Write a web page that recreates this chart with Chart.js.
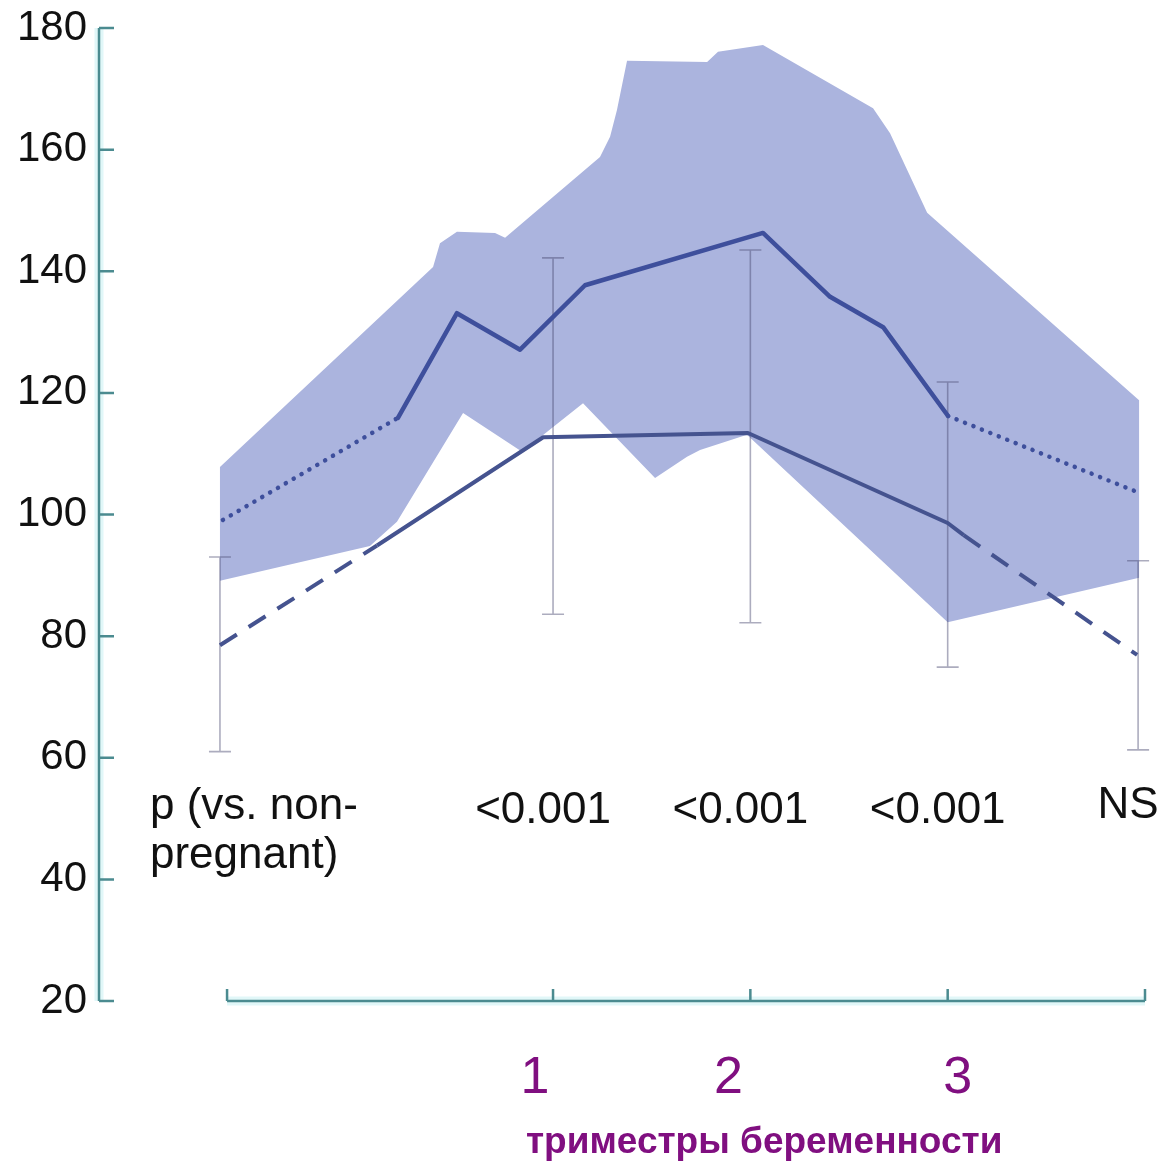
<!DOCTYPE html>
<html>
<head>
<meta charset="utf-8">
<script src="https://cdn.jsdelivr.net/npm/chart.js@4.4.1/dist/chart.umd.min.js"></script>
<style>
  html, body { margin: 0; padding: 0; background: #ffffff; }
  #wrap { width: 1161px; height: 1164px; }
</style>
</head>
<body>
<div id="wrap"><canvas id="c" width="1161" height="1164"></canvas></div>
<script>
// Horizontal positions: trimesters sit at 1, 2, 3; non-pregnant and postpartum at the ends
const groupX   = [-0.688, 1, 2, 3, 3.965];
const errHigh  = [93.0, 142.2, 143.5, 121.8, 92.4];
const errLow   = [61.0, 83.6, 82.2, 74.9, 61.3];
const pLabels  = [['p (vs. non-', 'pregnant)'], ['<0.001'], ['<0.001'], ['<0.001'], ['NS']];

// Upper mean curve (dotted at both ends)
const upperX = [-0.673, 0.214, 0.513, 0.833, 1.162, 2.064, 2.404, 2.673, 3.002, 3.960];
const upperY = [99.1, 115.9, 133.1, 127.1, 137.7, 146.3, 135.8, 130.8, 116.2, 103.7];

// Lower mean curve (dashed at both ends)
const lowerX = [-0.688, 0.108, 0.950, 1.988, 3.000, 3.081, 3.960];
const lowerY = [78.5, 94.9, 112.7, 113.4, 98.6, 96.6, 76.9];

// Shaded range: upper edge and lower edge, left to right
const bandTopX = [-0.688, 0.392, 0.427, 0.513, 0.706, 0.757, 1.238, 1.289, 1.324, 1.375, 1.781, 1.836, 2.064, 2.622, 2.708, 2.896, 3.012, 3.970];
const bandTopY = [107.8, 140.7, 144.6, 146.5, 146.3, 145.5, 158.8, 162.1, 166.5, 174.6, 174.4, 176.1, 177.2, 166.8, 162.7, 149.6, 146.3, 118.8];
const bandBotX = [-0.688, 0.072, 0.209, 0.544, 0.843, 1.152, 1.517, 1.679, 1.745, 1.983, 3.000, 3.970];
const bandBotY = [89.1, 94.8, 98.8, 116.7, 110.3, 118.3, 106.0, 109.5, 110.6, 113.1, 82.3, 89.6];

// Axis ticks and labels
const yMin = 20, yMax = 180, yStep = 20;
const trimesterTicks  = [1, 2, 3];
const trimesterLabels = ['1', '2', '3'];
const axisStartX = -0.652, axisEndX = 4.0;
const xTitle = 'триместры беременности';

const pts = (xs, ys) => xs.map((x, i) => ({ x: x, y: ys[i] }));
const bandPoints = pts(bandTopX, bandTopY).concat(pts(bandBotX, bandBotY).reverse());

const AXIS = '#4b8b90';
const LINE = '#3e4f9c';
const PURPLE = '#800f80';
const FONT = '"Liberation Sans", Arial, sans-serif';

const axesPlugin = {
  id: 'customAxes',
  beforeDatasetsDraw(chart) {
    const ctx = chart.ctx, xs = chart.scales.x, ys = chart.scales.y;
    const left = chart.chartArea.left;
    const yTop = ys.getPixelForValue(yMax), yBot = ys.getPixelForValue(yMin);
    const x0 = xs.getPixelForValue(axisStartX), x1 = xs.getPixelForValue(axisEndX);
    ctx.save();
    // soft halo around the axis lines
    ctx.strokeStyle = 'rgba(170,232,236,0.35)';
    ctx.lineWidth = 9;
    ctx.beginPath();
    ctx.moveTo(left, yTop); ctx.lineTo(left, yBot);
    ctx.moveTo(x0, yBot); ctx.lineTo(x1, yBot);
    ctx.stroke();

    ctx.strokeStyle = AXIS;
    ctx.lineWidth = 2.5;
    ctx.beginPath();
    ctx.moveTo(left, yTop); ctx.lineTo(left, yBot);
    for (let v = yMin; v <= yMax; v += yStep) {
      const y = ys.getPixelForValue(v);
      ctx.moveTo(left, y); ctx.lineTo(left + 15, y);
    }
    ctx.moveTo(x0, yBot); ctx.lineTo(x1, yBot);
    [axisStartX].concat(trimesterTicks, [axisEndX]).forEach(v => {
      const x = xs.getPixelForValue(v);
      ctx.moveTo(x, yBot); ctx.lineTo(x, yBot - 12);
    });
    ctx.stroke();
    ctx.restore();
  },
  afterDatasetDraw(chart, args) {
    if (args.index !== 0) return;
    // error bars, drawn over the shaded range
    const ctx = chart.ctx, xs = chart.scales.x, ys = chart.scales.y;
    ctx.save();
    ctx.strokeStyle = 'rgba(70,72,110,0.45)';
    ctx.lineWidth = 1.6;
    ctx.beginPath();
    groupX.forEach((gx, i) => {
      const x = xs.getPixelForValue(gx);
      const yh = ys.getPixelForValue(errHigh[i]), yl = ys.getPixelForValue(errLow[i]);
      ctx.moveTo(x, yh); ctx.lineTo(x, yl);
      ctx.moveTo(x - 11, yh); ctx.lineTo(x + 11, yh);
      ctx.moveTo(x - 11, yl); ctx.lineTo(x + 11, yl);
    });
    ctx.stroke();
    ctx.restore();
  },
  afterDraw(chart) {
    const ctx = chart.ctx, xs = chart.scales.x, ys = chart.scales.y;
    ctx.save();
    // p-value row
    ctx.fillStyle = '#111111';
    ctx.font = '44px ' + FONT;
    ctx.textBaseline = 'alphabetic';
    const base = ys.getPixelForValue(50) + 4;
    pLabels.forEach((lines, i) => {
      const x = xs.getPixelForValue(groupX[i]);
      lines.forEach((t, k) => {
        if (i === 0) {
          ctx.textAlign = 'left';
          ctx.fillText(t, x - 70, base - 4 + k * 49);
        } else {
          ctx.textAlign = 'center';
          ctx.fillText(t, x - 10, base + (i === 4 ? -5 : 0));
        }
      });
    });

    // trimester numbers under the axis
    const axisY = ys.getPixelForValue(yMin);
    const nudge = [-18, -22, 10];
    ctx.fillStyle = PURPLE;
    ctx.textAlign = 'center';
    ctx.font = '52px ' + FONT;
    trimesterTicks.forEach((v, i) => {
      ctx.fillText(trimesterLabels[i], xs.getPixelForValue(v) + nudge[i], axisY + 92);
    });

    // axis title
    ctx.font = 'bold 37px ' + FONT;
    ctx.fillText(xTitle, xs.getPixelForValue(2.07), axisY + 152);
    ctx.restore();
  }
};

const dotted = [0.1, 9];
const dashed = [20, 14];

new Chart(document.getElementById('c'), {
  type: 'scatter',
  data: {
    datasets: [
      {
        data: bandPoints,
        showLine: true,
        fill: 'shape',
        backgroundColor: '#abb4de',
        borderWidth: 0,
        pointRadius: 0,
        order: 10
      },
      {
        data: pts(upperX, upperY),
        showLine: true,
        borderColor: LINE,
        borderWidth: 4.5,
        borderCapStyle: 'round',
        borderJoinStyle: 'round',
        pointRadius: 0,
        order: 1,
        segment: {
          borderDash: c => (c.p0DataIndex === 0 || c.p1DataIndex === upperX.length - 1) ? dotted : undefined
        }
      },
      {
        data: pts(lowerX, lowerY),
        showLine: true,
        borderColor: '#45538f',
        borderWidth: 4,
        borderJoinStyle: 'round',
        pointRadius: 0,
        order: 2,
        segment: {
          borderDash: c => (c.p0DataIndex === 0 || c.p1DataIndex === lowerX.length - 1) ? dashed : undefined
        }
      }
    ]
  },
  options: {
    responsive: false,
    animation: false,
    events: [],
    layout: { padding: { top: 28, right: 16, left: 0, bottom: 0 } },
    plugins: { legend: { display: false }, tooltip: { enabled: false } },
    scales: {
      x: {
        type: 'linear',
        min: -1.301,
        max: axisEndX,
        grid: { display: false, drawTicks: false },
        border: { display: false },
        ticks: { display: false },
        afterFit: s => { s.height = 163; s.paddingLeft = 0; s.paddingRight = 0; }
      },
      y: {
        type: 'linear',
        min: yMin,
        max: yMax,
        grid: { display: false, drawTicks: false },
        border: { display: false },
        afterFit: s => { s.width = 99; s.paddingTop = 0; s.paddingBottom = 0; },
        ticks: {
          stepSize: yStep,
          padding: 12,
          color: '#111111',
          font: { family: FONT, size: 42 }
        }
      }
    }
  },
  plugins: [axesPlugin]
});
</script>
</body>
</html>
